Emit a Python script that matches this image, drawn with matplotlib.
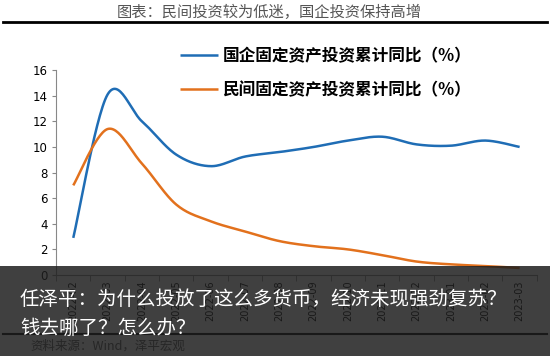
import numpy as np
import matplotlib.pyplot as plt
from matplotlib.patches import Rectangle
from matplotlib.lines import Line2D

plt.rcParams['font.family'] = ['Noto Sans CJK SC', 'DejaVu Sans']

# --- 数据 ---
months = ['2022-02', '2022-03', '2022-04', '2022-05', '2022-06', '2022-07', '2022-08',
          '2022-09', '2022-10', '2022-11', '2022-12', '2023-01', '2023-02', '2023-03']
soe = [2.9, 14.1, 12.0, 9.4, 8.5, 9.25, 9.6, 10.0, 10.5, 10.8, 10.2, 10.1, 10.5, 10.0]
private = [7.0, 11.4, 8.7, 5.5, 4.2, 3.4, 2.65, 2.25, 2.0, 1.55, 1.05, 0.83, 0.7, 0.55]
soe_label = '国企固定资产投资累计同比（%）'
private_label = '民间固定资产投资累计同比（%）'

BLUE = '#1f6db5'
ORANGE = '#e2711d'


def smooth(y, n=30):
    # Excel 风格的平滑曲线（Catmull-Rom 贝塞尔）
    y = np.asarray(y, dtype=float)
    x = np.arange(len(y), dtype=float)
    xp = np.concatenate([[x[0]], x, [x[-1]]])
    yp = np.concatenate([[y[0]], y, [y[-1]]])
    t = np.linspace(0, 1, n)[:, None]
    xs, ys = [], []
    for i in range(len(y) - 1):
        p0 = np.array([xp[i + 1], yp[i + 1]])
        p3 = np.array([xp[i + 2], yp[i + 2]])
        c1 = p0 + (p3 - np.array([xp[i], yp[i]])) / 6
        c2 = p3 - (np.array([xp[i + 3], yp[i + 3]]) - p0) / 6
        pts = ((1 - t) ** 3) * p0 + 3 * ((1 - t) ** 2) * t * c1 + 3 * (1 - t) * t ** 2 * c2 + t ** 3 * p3
        xs.append(pts[:, 0])
        ys.append(pts[:, 1])
    return np.concatenate(xs), np.concatenate(ys)


fig = plt.figure(figsize=(5.5, 3.56), dpi=100)
ax = fig.add_axes([0.102, 0.2275, 0.874, 0.5755])

x1, y1 = smooth(soe)
x2, y2 = smooth(private)
ax.plot(x1, y1, color=BLUE, lw=1.8, label=soe_label, solid_capstyle='butt')
ax.plot(x2, y2, color=ORANGE, lw=1.8, label=private_label, solid_capstyle='butt')

ax.set_xlim(-0.5, len(months) - 0.5)
ax.set_ylim(0, 16)
ax.set_yticks(range(0, 17, 2))
ax.tick_params(axis='y', labelsize=8.5, length=3, color='#888888', pad=3)
ax.set_xticks(range(len(months)))
ax.set_xticklabels(months, rotation=90, fontsize=7, family='DejaVu Sans')
ax.set_xticks(np.arange(-0.5, len(months), 1), minor=True)
ax.tick_params(axis='x', which='major', length=0, pad=4)
ax.tick_params(axis='x', which='minor', length=4, color='#888888')
for lab in ax.get_yticklabels():
    lab.set_family('DejaVu Sans')
for s in ['top', 'right']:
    ax.spines[s].set_visible(False)
ax.spines['left'].set_color('#888888')
ax.spines['bottom'].set_color('#888888')

ax.legend(loc='upper left', bbox_to_anchor=(165 / 550, 1 - 32 / 356), bbox_transform=fig.transFigure,
          frameon=False, handlelength=2.3, handletextpad=0.25, labelspacing=0.95,
          prop={'size': 12, 'weight': 'bold'})

# --- 标题与分隔线 ---
fig.text(0.49, 1 - 12 / 356, '图表：民间投资较为低迷，国企投资保持高增', ha='center', va='center',
         fontsize=11, color='#555555')
fig.add_artist(Line2D([0.005, 0.995], [1 - 22 / 356, 1 - 22 / 356], color='black', lw=2))
fig.add_artist(Line2D([0.005, 0.995], [1 - 334 / 356, 1 - 334 / 356], color='black', lw=1.5))
fig.text(30 / 550, 1 - 346 / 356, '资料来源：Wind，泽平宏观', ha='left', va='center',
         fontsize=9, color='#555555', style='italic')

# --- 底部遮罩与文字 ---
fig.add_artist(Rectangle((0, 0), 1, 1 - 266 / 356, transform=fig.transFigure,
                         facecolor='#1e1e1e', alpha=0.85, edgecolor='none', zorder=10))
fig.text(20 / 550, 1 - 299 / 356, '任泽平：为什么投放了这么多货币，经济未现强劲复苏？',
         ha='left', va='center', fontsize=14, color='white', zorder=11)
fig.text(20 / 550, 1 - 328 / 356, '钱去哪了？怎么办？',
         ha='left', va='center', fontsize=14, color='white', zorder=11)

fig.savefig('out.png', dpi=100)
